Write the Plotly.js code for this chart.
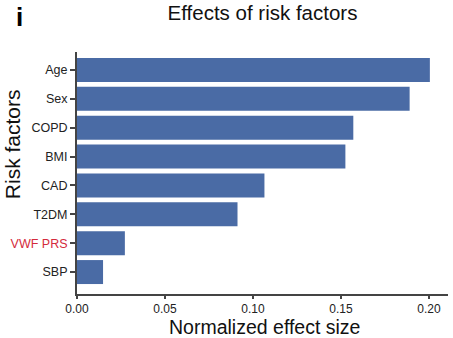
<!DOCTYPE html>
<html>
<head>
<meta charset="utf-8">
<script src="https://cdn.plot.ly/plotly-3.0.1.min.js"></script>
<style>html,body{margin:0;padding:0;background:#fff;}#chart{width:453px;height:338px;}</style>
</head>
<body>
<div id="chart"></div>
<script>
// Data (bottom to top)
const factors = ["SBP", "VWF PRS", "T2DM", "CAD", "BMI", "COPD", "Sex", "Age"];
const effects = [0.0148, 0.0272, 0.0912, 0.1065, 0.1525, 0.1570, 0.1890, 0.2005];
const highlight = "VWF PRS";
const xTickVals = [0, 0.05, 0.10, 0.15, 0.20];
const xTickText = ["0.00", "0.05", "0.10", "0.15", "0.20"];

const tickText = factors.map(f => f === highlight ? '<span style="color:#d42a3c">' + f + '</span>' : f);

const trace = {
  type: 'bar',
  orientation: 'h',
  x: effects,
  y: factors.map((f, i) => i),
  marker: {color: '#4a6ba5'},
  hoverinfo: 'none'
};

const layout = {
  width: 453, height: 338,
  margin: {l: 77, r: 5, t: 52, b: 44},
  paper_bgcolor: '#fff', plot_bgcolor: '#fff',
  font: {family: 'Liberation Sans, Arial, sans-serif', color: '#222', size: 12.5},
  bargap: 0.17,
  showlegend: false,
  title: {text: 'Effects of risk factors', x: 0.5, xref: 'paper', y: 0.962, yref: 'container', yanchor: 'middle',
          font: {size: 20.5, color: '#111'}},
  xaxis: {
    range: [0, 0.2108], tickvals: xTickVals, ticktext: xTickText,
    showgrid: false, zeroline: false, showline: true, linecolor: '#444', linewidth: 2,
    ticks: 'outside', ticklen: 3, tickwidth: 2, tickcolor: '#444',
    tickfont: {size: 12, color: '#222'}
  },
  yaxis: {
    range: [-0.76, 7.62], tickvals: factors.map((f, i) => i), ticktext: tickText,
    showgrid: false, zeroline: false, showline: true, linecolor: '#444', linewidth: 2,
    ticks: 'outside', ticklen: 5, tickwidth: 2, tickcolor: '#444',
    tickfont: {size: 12.5, color: '#222'}
  },
  annotations: [
    {text: 'Risk factors', xref: 'paper', yref: 'paper', x: -0.172, y: 0.62, textangle: -90,
     showarrow: false, font: {size: 21, color: '#111'}, xanchor: 'center', yanchor: 'middle'},
    {text: 'Normalized effect size', xref: 'paper', yref: 'paper', x: 0.505, y: -0.136,
     showarrow: false, font: {size: 19.5, color: '#111'}, xanchor: 'center', yanchor: 'middle'},
    {text: '<b>i</b>', xref: 'paper', yref: 'paper', x: -0.155, y: 1.145, xanchor: 'center', yanchor: 'middle',
     showarrow: false, font: {size: 26, color: '#000'}}
  ]
};

Plotly.newPlot('chart', [trace], layout, {staticPlot: true, displayModeBar: false});
</script>
</body>
</html>
